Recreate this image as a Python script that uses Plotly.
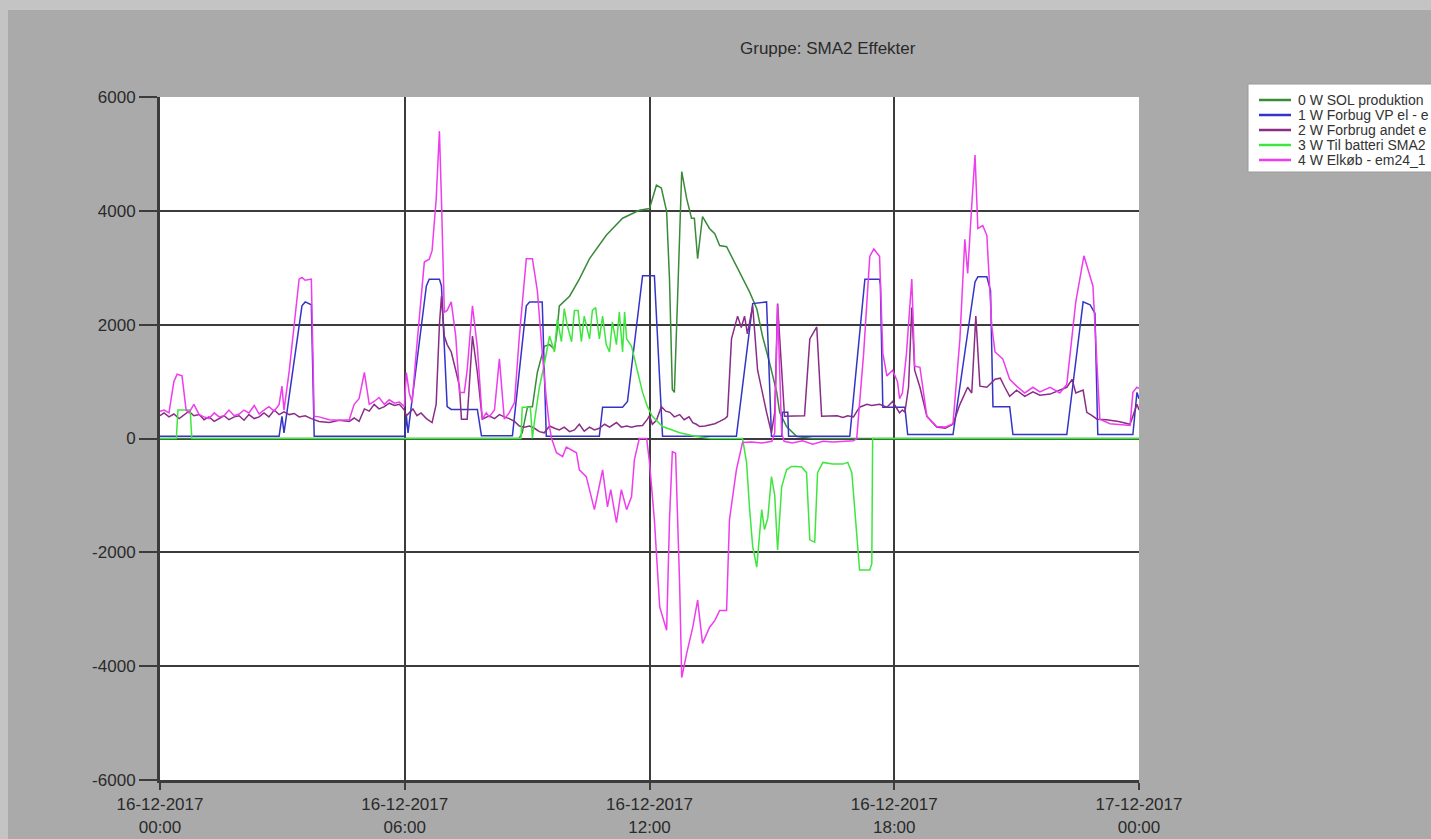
import pandas as pd
import plotly.graph_objects as go

# ---------------- data (hours after 16-12-2017 00:00, watts) ----------------
series_names = ["0 W SOL produktion", "1 W Forbug VP el - e", "2 W Forbrug andet e",
                "3 W Til batteri SMA2", "4 W Elkøb - em24_1"]
series_colors = ["#3a8a3a", "#3434c8", "#8a2d86", "#3ee63e", "#ee3cee"]

sol_h = [0, 8.8, 8.88, 9.01, 9.13, 9.25, 9.42, 9.55, 9.67, 9.72, 9.79, 10.04, 10.28, 10.53,
         10.94, 11.34, 11.75, 12.0, 12.17, 12.29, 12.42, 12.49, 12.56, 12.61, 12.69, 12.79,
         12.91, 13.03, 13.1, 13.18, 13.3, 13.47, 13.6, 13.72, 13.89, 14.04, 14.28, 14.45,
         14.63, 14.77, 14.94, 15.12, 15.19, 15.36, 15.61, 16.0, 24]
sol_w = [0, 0, 100, 560, 560, 1160, 1620, 1650, 1570, 1800, 2330, 2500, 2800, 3160,
         3570, 3870, 4010, 4040, 4450, 4400, 3990, 2800, 860, 810, 2500, 4690,
         4220, 3870, 3870, 3160, 3900, 3690, 3600, 3390, 3370, 3160, 2800, 2580,
         2280, 1800, 1340, 810, 460, 210, 35, 0, 0]

vp_h = [0, 2.92, 2.99, 3.04, 3.1, 3.48, 3.56, 3.71, 3.78, 6.0, 6.04, 6.08, 6.14, 6.53, 6.6,
        6.85, 6.9, 7.04, 7.14, 7.78, 7.88, 8.64, 8.98, 9.06, 9.37, 9.47, 10.77, 10.85, 11.34,
        11.39, 11.46, 11.83, 12.12, 12.32, 14.13, 14.53, 14.87, 14.99, 15.24, 15.26, 15.39,
        15.41, 16.91, 17.28, 17.64, 17.66, 17.72, 18.26, 18.33, 19.44, 19.98, 20.05, 20.27,
        20.36, 20.42, 20.83, 20.91, 22.23, 22.63, 22.8, 22.92, 22.99, 23.85, 23.95, 24]
vp_w = [40, 40, 390, 100, 400, 2330, 2400, 2350, 40, 40, 400, 100, 450, 2680, 2800,
        2800, 2680, 560, 510, 510, 50, 50, 2330, 2400, 2400, 40, 40, 550, 550,
        600, 650, 2860, 2860, 40, 40, 2370, 2400, 40, 40, 460, 460,
        40, 40, 2800, 2800, 2700, 550, 550, 70, 70, 2750, 2840, 2840,
        2600, 560, 560, 70, 70, 2400, 2350, 2200, 70, 70, 810, 700]

andet_h = [0, 0.1, 0.22, 0.34, 0.47, 0.59, 0.71, 0.83, 0.96, 1.08, 1.2, 1.33, 1.45, 1.57, 1.69,
           1.82, 1.94, 2.06, 2.18, 2.31, 2.43, 2.55, 2.67, 2.8, 2.92, 3.04, 3.17, 3.29, 3.41,
           3.56, 3.71, 3.9, 4.15, 4.39, 4.64, 4.76, 4.88, 5.01, 5.13, 5.25, 5.37, 5.5, 5.62,
           5.75, 5.87, 5.99, 6.04, 6.11, 6.2, 6.3, 6.4, 6.53, 6.67, 6.77, 6.85, 6.9, 6.97,
           7.04, 7.14, 7.25, 7.34, 7.39, 7.53, 7.66, 7.78, 7.9, 8.07, 8.2, 8.32, 8.44, 8.56,
           8.69, 8.81, 8.93, 9.06, 9.18, 9.3, 9.42, 9.55, 9.67, 9.79, 9.91, 10.04, 10.16,
           10.28, 10.4, 10.53, 10.65, 10.77, 10.9, 11.02, 11.19, 11.31, 11.44, 11.56, 11.68,
           11.83, 11.95, 12.0, 12.07, 12.17, 12.29, 12.4, 12.5, 12.61, 12.74, 12.85, 12.97,
           13.06, 13.15, 13.23, 13.36, 13.47, 13.6, 13.72, 13.85, 13.91, 14.01, 14.16, 14.25,
           14.33, 14.4, 14.53, 14.65, 14.87, 14.99, 15.07, 15.14, 15.31, 15.51, 15.68, 15.8,
           15.93, 16.1, 16.22, 16.49, 16.6, 16.74, 16.86, 17.0, 17.15, 17.33, 17.45, 17.64,
           17.82, 17.96, 18.13, 18.2, 18.26, 18.35, 18.43, 18.5, 18.63, 18.8, 19.04, 19.25,
           19.44, 19.61, 19.8, 19.9, 20.0, 20.1, 20.27, 20.47, 20.6, 20.71, 20.83, 21.0, 21.2,
           21.4, 21.57, 21.82, 22.06, 22.23, 22.36, 22.45, 22.63, 22.72, 22.85, 22.97, 23.2,
           23.5, 23.78, 23.95, 24]
andet_w = [400, 450, 380, 430, 350, 420, 480, 400, 420, 330, 380, 300, 350, 400, 330,
           380, 400, 320, 420, 350, 380, 450, 380, 500, 420, 470, 420, 440, 380,
           400, 350, 300, 280, 320, 300, 360, 300, 520, 480, 600, 520, 560, 620,
           580, 600, 500, 400, 450, 520, 400, 450, 350, 280, 600, 2000, 2500, 1800,
           1650, 1520, 1200, 920, 340, 340, 1800, 1160, 340, 400, 350, 420, 380, 350,
           300, 220, 200, 220, 180, 120, 100, 220, 180, 150, 200, 120, 150,
           250, 130, 200, 150, 180, 250, 200, 280, 200, 220, 200, 220,
           230, 340, 400, 250, 320, 560, 480, 460, 380, 420, 330, 380,
           280, 250, 210, 220, 240, 260, 300, 350, 390, 1750, 2150, 1950,
           2150, 1840, 2330, 1200, 460, 100, 460, 2370, 390, 390, 400, 400,
           1750, 1960, 390, 390, 400, 370, 400, 380, 550, 600, 580, 600,
           550, 650, 450, 500, 460, 900, 2300, 1200, 900, 390, 200, 180,
           250, 600, 900, 800, 2150, 920, 900, 1040, 1060, 900, 740, 850, 740,
           820, 760, 780, 850, 900, 1040, 800, 850, 460, 400, 340, 330,
           300, 250, 600, 500]

batt_h = [0, 0.4, 0.44, 0.74, 0.78, 8.85, 8.88, 9.08, 9.13, 9.18, 9.3, 9.42, 9.55, 9.67, 9.74,
          9.84, 9.91, 9.98, 10.09, 10.16, 10.25, 10.33, 10.4, 10.53, 10.6, 10.68, 10.77, 10.85,
          10.94, 11.02, 11.09, 11.19, 11.26, 11.34, 11.39, 11.44, 11.56, 11.68, 11.83, 11.95,
          12.07, 12.32, 12.74, 13.15, 13.5, 14.28, 14.38, 14.45, 14.53, 14.63, 14.7, 14.75,
          14.82, 14.9, 14.99, 15.07, 15.14, 15.24, 15.36, 15.48, 15.61, 15.73, 15.85, 15.93,
          16.05, 16.12, 16.25, 16.49, 16.74, 16.86, 16.96, 17.15, 17.4, 17.45, 17.47, 24]
batt_w = [0, 0, 500, 500, 0, 0, 550, 550, 0, 300, 900, 1300, 1800, 1520, 2100,
          1700, 2280, 2000, 1700, 2250, 2250, 1700, 2150, 1750, 2250, 2300, 1750, 2150,
          1650, 1520, 2050, 1650, 2220, 1520, 2220, 1750, 1620, 1270, 810, 560,
          390, 210, 100, 35, 0, 0, -420, -1200, -1900, -2260, -1700, -1250,
          -1600, -1400, -670, -1000, -1960, -850, -550, -490, -490, -500, -600, -1780,
          -1820, -600, -420, -450, -450, -420, -600, -2310, -2310, -2200, 0, 0]

elkob_h = [0, 0.1, 0.22, 0.34, 0.42, 0.54, 0.64, 0.71, 0.83, 0.96, 1.08, 1.2, 1.33, 1.45,
           1.57, 1.69, 1.82, 1.94, 2.06, 2.18, 2.31, 2.43, 2.55, 2.67, 2.8, 2.92, 2.99, 3.04,
           3.17, 3.41, 3.48, 3.56, 3.71, 3.78, 3.9, 4.15, 4.39, 4.64, 4.76, 4.88, 5.01, 5.13,
           5.25, 5.37, 5.5, 5.62, 5.75, 5.87, 5.99, 6.04, 6.11, 6.18, 6.28, 6.48, 6.6, 6.67,
           6.77, 6.85, 6.9, 6.97, 7.04, 7.14, 7.25, 7.34, 7.46, 7.53, 7.66, 7.78, 7.9, 8.0,
           8.07, 8.2, 8.32, 8.44, 8.56, 8.69, 8.81, 8.98, 9.13, 9.25, 9.37, 9.47, 9.55, 9.6,
           9.72, 9.87, 9.96, 10.21, 10.28, 10.45, 10.65, 10.85, 10.97, 11.05, 11.19, 11.31,
           11.44, 11.56, 11.63, 11.75, 11.93, 12.0, 12.12, 12.25, 12.42, 12.49, 12.56, 12.64,
           12.74, 12.79, 12.91, 13.06, 13.18, 13.3, 13.47, 13.6, 13.72, 13.89, 13.96, 14.13,
           14.28, 14.5, 14.75, 15.0, 15.07, 15.14, 15.24, 15.3, 15.5, 15.75, 16.0, 16.25, 16.5,
           16.75, 17.0, 17.08, 17.25, 17.4, 17.5, 17.64, 17.72, 17.82, 17.96, 18.08, 18.13,
           18.2, 18.3, 18.43, 18.5, 18.63, 18.8, 19.04, 19.25, 19.44, 19.61, 19.73, 19.8, 19.9,
           19.98, 20.05, 20.17, 20.27, 20.39, 20.47, 20.66, 20.83, 21.0, 21.2, 21.4, 21.57,
           21.82, 22.06, 22.23, 22.45, 22.65, 22.87, 22.95, 23.04, 23.29, 23.53, 23.78, 23.85,
           23.95, 24]
elkob_w = [480, 500, 450, 1000, 1130, 1100, 500, 450, 600, 420, 380, 350, 450, 380,
           400, 500, 400, 430, 500, 450, 580, 430, 500, 560, 480, 600, 920, 500,
           1200, 2800, 2830, 2780, 2800, 390, 380, 330, 320, 330, 600, 700, 1160, 600,
           650, 720, 600, 680, 620, 640, 560, 1160, 800, 630, 1500, 3100, 3150, 3300,
           4200, 5400, 4200, 2220, 2250, 2400, 1800, 810, 810, 1200, 2330, 1600, 340, 450,
           380, 500, 1400, 340, 450, 630, 1800, 3160, 3160, 2600, 1520, 700, 200, 0,
           -250, -320, -150, -250, -550, -670, -1250, -550, -1200, -900, -1480, -900,
           -1250, -1020, -370, 0, 0, -420, -1430, -2960, -3370, -1430, -230, -260,
           -2610, -4200, -3780, -3320, -2840, -3600, -3320, -3200, -3020, -3020, -1430, -550,
           -70, -60, -80, -50, 100, 2350, 100, -50, -80, -40, -100, -50, -60,
           -50, -40, 0, 1500, 3200, 3330, 3200, 1500, 1100, 1200, 1000, 700,
           800, 1500, 2800, 1270, 1250, 390, 210, 200, 260, 1750, 3500, 2900, 4100,
           4980, 3690, 3740, 3570, 1980, 1520, 1400, 1040, 920, 800, 900, 820,
           900, 800, 950, 2400, 3210, 2680, 1500, 340, 260, 250, 230, 810,
           900, 880]

x_tick_hours = [0, 6, 12, 18, 24]
x_tick_text = ["16-12-2017<br>00:00", "16-12-2017<br>06:00", "16-12-2017<br>12:00",
               "16-12-2017<br>18:00", "17-12-2017<br>00:00"]
y_ticks = [-6000, -4000, -2000, 0, 2000, 4000, 6000]
y_tick_text = ["-6000", "-4000", "-2000", "0", "2000", "4000", "6000"]
title_text = "Gruppe: SMA2 Effekter"

# ---------------- figure ----------------
base = pd.Timestamp("2017-12-16 00:00")


def to_time(hours):
    return base + pd.to_timedelta(hours, unit="h")


W, H = 1431, 839
L, R, T, B = 160, 292, 97, 59
PW, PH = W - L - R, H - T - B


def px(x):
    return (x - L) / PW


def py(y):
    return (H - B - y) / PH


fig = go.Figure()
all_h = [sol_h, vp_h, andet_h, batt_h, elkob_h]
all_w = [sol_w, vp_w, andet_w, batt_w, elkob_w]
for name, col, hh, ww in zip(series_names, series_colors, all_h, all_w):
    fig.add_trace(go.Scatter(x=to_time(hh), y=ww, mode="lines", name=name,
                             line=dict(color=col, width=1.5), showlegend=False))

font_family = "Liberation Sans, Arial, sans-serif"

shapes = [
    # light frame strips at top and left of the window
    dict(type="rect", xref="paper", yref="paper", x0=px(0), x1=px(W), y0=py(10), y1=py(0),
         fillcolor="#c4c4c4", line=dict(width=0), layer="below"),
    dict(type="rect", xref="paper", yref="paper", x0=px(0), x1=px(8), y0=py(H), y1=py(0),
         fillcolor="#c4c4c4", line=dict(width=0), layer="below"),
    # legend box
    dict(type="rect", xref="paper", yref="paper", x0=px(1248), x1=px(1445),
         y0=py(172), y1=py(84), fillcolor="white", line=dict(color="#9a9a9a", width=1),
         layer="above"),
]
annotations = []
for i, (name, col) in enumerate(zip(series_names, series_colors)):
    yy = 100 + 15 * i
    shapes.append(dict(type="line", xref="paper", yref="paper", x0=px(1259), x1=px(1291),
                       y0=py(yy), y1=py(yy), line=dict(color=col, width=2.5), layer="above"))
    annotations.append(dict(x=px(1296), y=py(yy), xref="paper", yref="paper", text=name,
                            showarrow=False, xanchor="left", yanchor="middle",
                            font=dict(family=font_family, size=14, color="#333333")))

annotations.append(dict(x=px(828), y=py(48), xref="paper", yref="paper", text=title_text,
                        showarrow=False, xanchor="center", yanchor="middle",
                        font=dict(family=font_family, size=17, color="#2a2a2a")))

fig.update_layout(
    width=W, height=H,
    margin=dict(l=L, r=R, t=T, b=B, autoexpand=False),
    paper_bgcolor="#aaaaaa", plot_bgcolor="white",
    shapes=shapes, annotations=annotations, showlegend=False,
    font=dict(family=font_family, size=17, color="#2a2a2a"),
)
fig.update_xaxes(
    type="date", range=[to_time(0), to_time(24)],
    tickvals=to_time(x_tick_hours), ticktext=x_tick_text,
    showgrid=True, gridcolor="#3c3c3c", gridwidth=2,
    ticks="outside", ticklen=7, tickwidth=2, tickcolor="#3c3c3c",
    showline=True, linecolor="#3c3c3c", linewidth=3,
    zeroline=False, tickfont=dict(size=17, color="#2a2a2a"),
)
fig.update_yaxes(
    range=[-6000, 6000], tickvals=y_ticks, ticktext=y_tick_text,
    showgrid=True, gridcolor="#3c3c3c", gridwidth=2,
    ticks="outside", ticklen=18, tickwidth=2, tickcolor="#3c3c3c",
    showline=True, linecolor="#3c3c3c", linewidth=3,
    zeroline=False, tickfont=dict(size=17, color="#2a2a2a"),
)

fig.write_html("out.html")
